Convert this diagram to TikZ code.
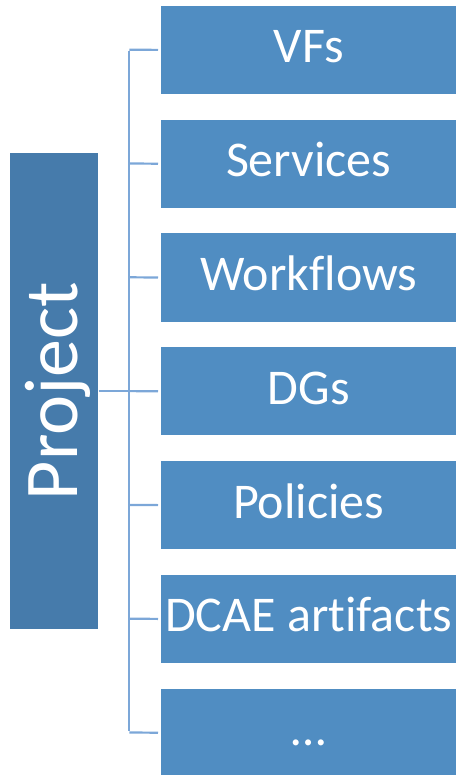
\documentclass[tikz,border=0pt]{standalone}
\usepackage{fontspec}
\setmainfont[Ligatures=NoCommon]{Carlito}
\definecolor{boxblue}{RGB}{80,141,194}
\definecolor{projblue}{RGB}{70,123,171}
\definecolor{lineblue}{RGB}{124,167,216}
\begin{document}
\begin{tikzpicture}[x=1pt,y=-1pt,
  itembox/.style={fill=boxblue, draw=none, minimum width=295pt, minimum height=88pt, inner sep=0pt,
    text=white, font=\fontsize{50}{58}\selectfont, text height=37pt, text depth=11pt, anchor=north west},
  projbox/.style={fill=projblue, draw=none, minimum width=88pt, minimum height=476pt, inner sep=0pt},
  conn/.style={draw=lineblue, line width=2.2pt}]
\useasboundingbox (0,0) rectangle (456,775);
\node[projbox] (proj) at (54.4,390.9) {};
\node[text=white, rotate=90, font=\fontsize{76}{80}\selectfont, text height=55pt, text depth=8pt, inner sep=0pt] (projtext) at (proj.center) {Project};
\foreach \i/\t in {1/VFs, 2/Services, 3/Workflows, 4/DGs, 5/Policies, 6/DCAE artifacts, 7/\textellipsis}{
  \node[itembox] (b\i) at (161, {5.7+113.8*(\i-1)}) {\t};
  \coordinate (j\i) at (129.3, {5.7+113.8*(\i-1)+44});
  \draw[conn] (j\i) -- ([xshift=-3pt]b\i.west);
}
\draw[conn] ([yshift=-1.1pt]j1) -- ([yshift=1.1pt]j7);
\draw[conn] (proj.east) -- (proj.east -| j1);
\end{tikzpicture}
\end{document}
